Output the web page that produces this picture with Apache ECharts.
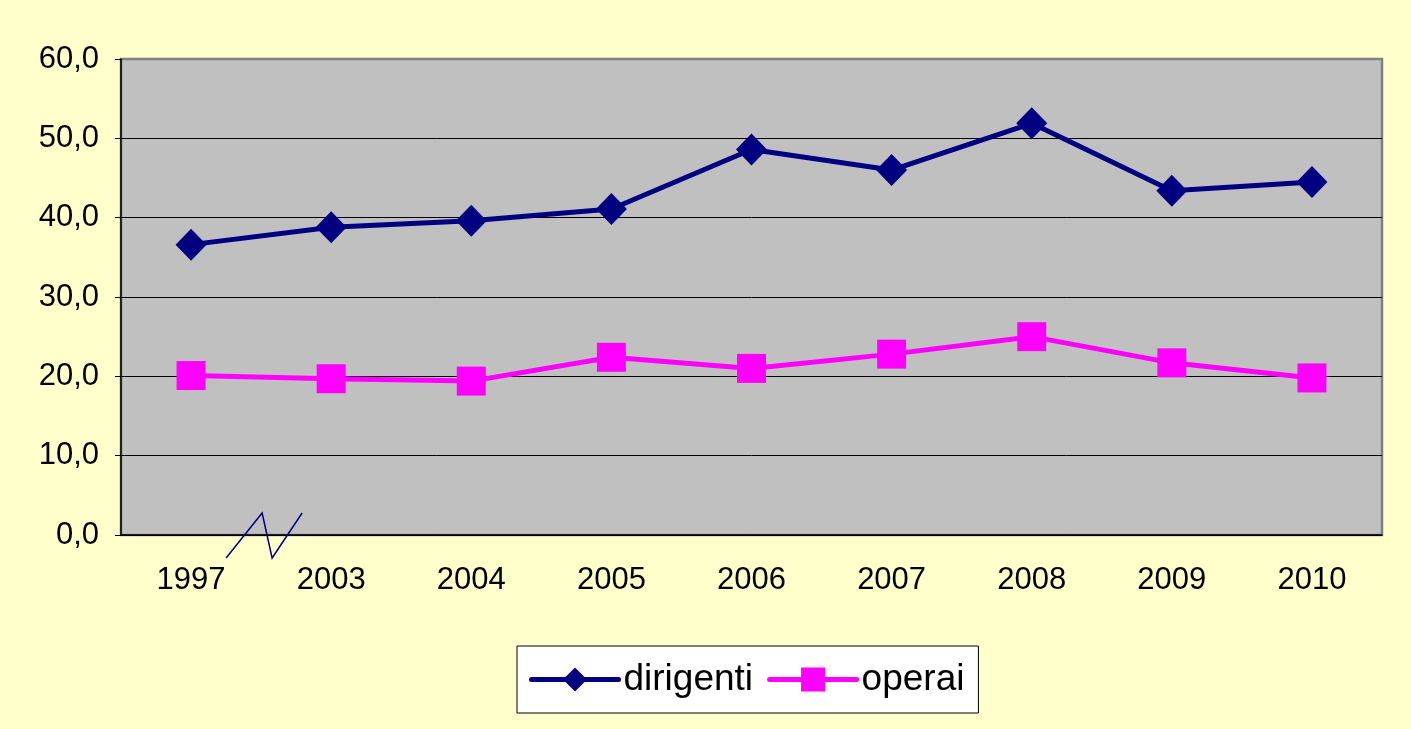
<!DOCTYPE html>
<html>
<head>
<meta charset="utf-8">
<script src="https://cdn.jsdelivr.net/npm/echarts@6/dist/echarts.min.js"></script>
<style>
  html, body { margin: 0; padding: 0; background: #FFFFCC; }
  #chart { width: 1411px; height: 729px; }
</style>
</head>
<body>
<div id="chart"></div>
<script>
// dati
var anni = ['1997', '2003', '2004', '2005', '2006', '2007', '2008', '2009', '2010']
var dirigenti = [36.6, 38.8, 39.6, 41.1, 48.6, 46.0, 51.9, 43.4, 44.5]
var operai = [20.1, 19.7, 19.4, 22.4, 21.0, 22.8, 25.0, 21.7, 19.8]
var yTicks = [0, 10, 20, 30, 40, 50, 60]

var font = 'Liberation Sans, Arial, sans-serif'

var myChart = echarts.init(document.getElementById('chart'))

var option = {
  backgroundColor: '#FFFFCC',
  animation: false,
  grid: {
    left: 121, top: 59, right: 29, bottom: 194,
    outerBoundsMode: 'none',
    show: true,
    backgroundColor: '#C0C0C0',
    borderColor: '#808080',
    borderWidth: 2.5
  },
  legend: {
    left: 517, top: 646,
    padding: [15, 14, 15, 12],
    backgroundColor: '#ffffff',
    borderColor: '#000000',
    borderWidth: 1,
    itemWidth: 87,
    itemHeight: 30,
    itemGap: 14,
    lineStyle: { width: 5, cap: 'round' },
    textStyle: { fontFamily: font, fontSize: 37, color: '#000' },
    data: ['dirigenti', 'operai']
  },
  xAxis: {
    type: 'category',
    data: anni,
    boundaryGap: true,
    axisLine: { lineStyle: { color: '#000', width: 1.5 } },
    axisTick: { length: 8, lineStyle: { color: '#000' } },
    axisLabel: { color: '#000', fontFamily: font, fontSize: 31, margin: 30 }
  },
  yAxis: {
    type: 'value',
    min: yTicks[0],
    max: yTicks[yTicks.length - 1],
    interval: 10,
    axisLine: { show: true, lineStyle: { color: '#000', width: 1.5 } },
    axisTick: { show: true, length: 6, lineStyle: { color: '#000' } },
    splitLine: { showMaxLine: false, lineStyle: { color: '#000', width: 1 } },
    axisLabel: {
      color: '#000', fontFamily: font, fontSize: 31, margin: 22,
      formatter: function (v) { return v.toFixed(1).replace('.', ',') }
    }
  },
  series: [{
    name: 'dirigenti',
    type: 'line',
    data: dirigenti,
    symbol: 'diamond',
    symbolSize: [31, 32],
    color: '#000080',
    lineStyle: { color: '#000080', width: 5 },
    itemStyle: { color: '#000080' }
  }, {
    name: 'operai',
    type: 'line',
    data: operai,
    symbol: 'rect',
    symbolSize: 29,
    color: '#FF00FF',
    lineStyle: { color: '#FF00FF', width: 5 },
    itemStyle: { color: '#FF00FF' }
  }]
}
myChart.setOption(option)

// segno di interruzione dell'asse tra 1997 e 2003
var p0 = myChart.convertToPixel({ gridIndex: 0 }, [0, 0])
var p1 = myChart.convertToPixel({ gridIndex: 0 }, [1, 0])
var bx = (p0[0] + p1[0]) / 2
var by = p0[1]
myChart.setOption({
  graphic: [{
    type: 'polyline',
    shape: { points: [[bx - 35, by + 23], [bx + 1, by - 22], [bx + 11, by + 23], [bx + 41, by - 22]] },
    style: { stroke: '#000080', lineWidth: 1.5, fill: null },
    z: 100
  }]
})
</script>
</body>
</html>
